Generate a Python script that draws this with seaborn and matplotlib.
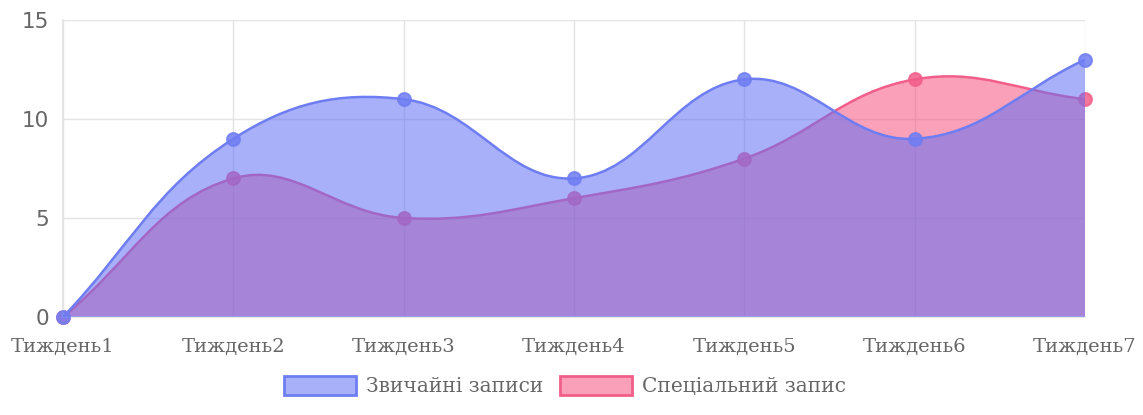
import numpy as np
import matplotlib
matplotlib.use("Agg")
import matplotlib.pyplot as plt
import seaborn as sns
from matplotlib.path import Path
from matplotlib.patches import PathPatch, Patch

weeks = ["Тиждень1", "Тиждень2", "Тиждень3", "Тиждень4", "Тиждень5", "Тиждень6", "Тиждень7"]
regular = [0, 9, 11, 7, 12, 9, 13]
special = [0, 7, 5, 6, 8, 12, 11]
series_names = ["Звичайні записи", "Спеціальний запис"]

BLUE_LINE = "#6f7df2"
BLUE_FILL = (0.38, 0.44, 0.96, 0.55)
PINK_LINE = "#f25e8a"
PINK_FILL = (0.97, 0.32, 0.50, 0.55)
GRID = "#e3e3e3"
TEXT = "#666666"


def spline_path(ax, xs, ys, tension=0.4, closed_to_zero=False):
    # chart.js style cubic bezier, control points computed in pixel space
    pts = ax.transData.transform(np.column_stack([xs, ys]))
    n = len(pts)
    cps = []
    for i in range(n):
        p0 = pts[max(i - 1, 0)]
        p1 = pts[i]
        p2 = pts[min(i + 1, n - 1)]
        d01 = np.hypot(*(p1 - p0))
        d12 = np.hypot(*(p2 - p1))
        tot = d01 + d12
        s01 = d01 / tot if tot else 0
        s12 = d12 / tot if tot else 0
        fa, fb = tension * s01, tension * s12
        cps.append((p1 - fa * (p2 - p0), p1 + fb * (p2 - p0)))
    verts = [pts[0]]
    codes = [Path.MOVETO]
    for i in range(n - 1):
        verts += [cps[i][1], cps[i + 1][0], pts[i + 1]]
        codes += [Path.CURVE4] * 3
    if closed_to_zero:
        base = ax.transData.transform([[xs[-1], 0], [xs[0], 0]])
        verts += [base[0], base[1], pts[0]]
        codes += [Path.LINETO, Path.LINETO, Path.CLOSEPOLY]
    verts = ax.transData.inverted().transform(np.array(verts))
    return Path(verts, codes)


sns.set_theme(style="white")
fig = plt.figure(figsize=(11.43, 4.15), dpi=100)
ax = fig.add_axes([63 / 1143, 98 / 415, 1022 / 1143, 297 / 415])
x = np.arange(len(weeks))
ax.set_xlim(0, len(weeks) - 1)
ax.set_ylim(0, 15)

# each dataset drawn completely; pink first, blue on top
z = 2
for ys, fill, line in [(special, PINK_FILL, PINK_LINE), (regular, BLUE_FILL, BLUE_LINE)]:
    ax.add_patch(PathPatch(spline_path(ax, x, ys, closed_to_zero=True),
                           facecolor=fill, edgecolor="none", zorder=z))
    ax.add_patch(PathPatch(spline_path(ax, x, ys), facecolor="none",
                           edgecolor=line, lw=1.8, zorder=z + 0.1))
    sns.scatterplot(x=x, y=ys, ax=ax, s=85, color=line, alpha=0.85,
                    edgecolor=line, linewidth=1.5, zorder=z + 0.2, clip_on=False)
    z += 1

ax.set_xticks(x)
ax.set_xticklabels(weeks, family="DejaVu Serif", fontsize=14, color=TEXT)
ax.set_yticks([0, 5, 10, 15])
ax.set_yticklabels(["0", "5", "10", "15"], fontsize=15.5, color=TEXT)
ax.grid(True, color=GRID, lw=1)
ax.set_axisbelow(True)
ax.tick_params(axis="both", length=8, color=GRID, width=1)
ax.tick_params(axis="x", pad=7)
ax.tick_params(axis="y", pad=2)
for side in ["top", "right"]:
    ax.spines[side].set_visible(False)
for side in ["left", "bottom"]:
    ax.spines[side].set_color(GRID)

handles = [Patch(facecolor=BLUE_FILL, edgecolor=BLUE_LINE, lw=2),
           Patch(facecolor=PINK_FILL, edgecolor=PINK_LINE, lw=2)]
leg = fig.legend(handles, series_names, loc="center", bbox_to_anchor=(565 / 1143, 1 - 386 / 415),
                 ncol=2, frameon=False, handlelength=3.6, handleheight=1.1,
                 columnspacing=0.8, handletextpad=0.5,
                 prop={"family": "DejaVu Serif", "size": 14.5})
for t in leg.get_texts():
    t.set_color(TEXT)

fig.savefig("out.png", dpi=100)
